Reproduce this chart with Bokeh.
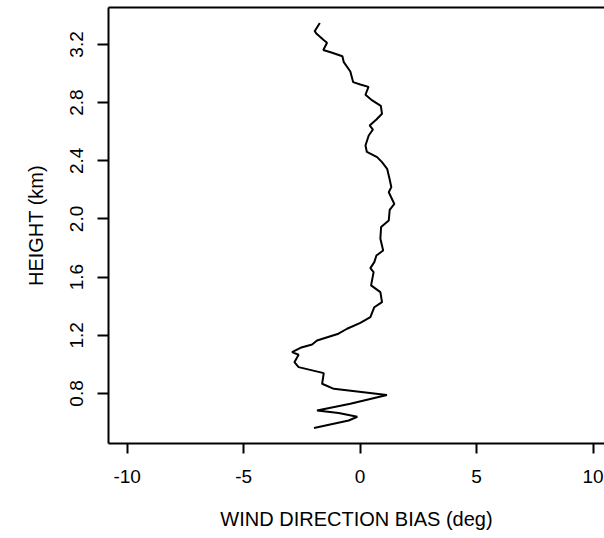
from bokeh.plotting import figure
from bokeh.models import LinearAxis, FixedTicker, Range1d
from bokeh.embed import file_html
from bokeh.resources import INLINE

# Wind direction bias profile (deg) vs height (km)
bias = [-1.98, -0.49, -0.12, -0.92, -1.85, -0.42, 1.15, -1.13, -1.63, -1.56,
        -2.64, -2.82, -2.64, -2.92, -2.56, -2.06, -1.85, -0.93, -0.56, 0.01,
        0.44, 0.61, 0.94, 0.87, 0.47, 0.58, 0.44, 0.61, 0.70, 0.99,
        0.87, 0.90, 1.23, 1.27, 1.47, 1.23, 1.34, 1.26, 1.16, 0.94,
        0.73, 0.29, 0.23, 0.37, 0.55, 0.41, 0.70, 0.94, 0.89, 0.52,
        0.23, 0.36, 0.01, -0.30, -0.42, -0.70, -0.76, -1.20, -1.58, -1.42,
        -1.59, -1.88, -1.95, -1.73]
height = [0.563, 0.614, 0.640, 0.665, 0.683, 0.729, 0.790, 0.832, 0.867, 0.940,
          0.981, 1.015, 1.066, 1.084, 1.114, 1.137, 1.164, 1.211, 1.245, 1.286,
          1.325, 1.393, 1.428, 1.497, 1.543, 1.634, 1.662, 1.703, 1.749, 1.783,
          1.864, 1.944, 1.990, 2.063, 2.103, 2.184, 2.219, 2.278, 2.345, 2.391,
          2.425, 2.461, 2.505, 2.574, 2.615, 2.643, 2.684, 2.723, 2.777, 2.815,
          2.854, 2.908, 2.925, 2.941, 3.014, 3.078, 3.119, 3.143, 3.162, 3.212,
          3.234, 3.276, 3.291, 3.348]

x_ticks = [-10, -5, 0, 5, 10]
x_tick_labels = {-10: "-10", -5: "-5", 0: "0", 5: "5", 10: "10"}
y_ticks = [0.8, 1.2, 1.6, 2.0, 2.4, 2.8, 3.2]
y_tick_labels = {0.8: "0.8", 1.2: "1.2", 1.6: "1.6", 2.0: "2.0", 2.4: "2.4", 2.8: "2.8", 3.2: "3.2"}

FONT = "Liberation Sans"
TICK_FS = "19px"
TITLE_FS = "20px"

p = figure(width=604, height=538, output_backend="svg", toolbar_location=None,
           x_range=Range1d(-10.8, 10.49), y_range=Range1d(0.456, 3.454),
           min_border_left=108, min_border_right=0, min_border_top=7, min_border_bottom=95,
           x_axis_label="WIND DIRECTION BIAS (deg)", y_axis_label="HEIGHT (km)")
p.outline_line_color = None
p.grid.visible = False
p.background_fill_color = "white"
p.border_fill_color = "white"

p.line(bias, height, line_color="black", line_width=2)

xa = p.xaxis[0]
xa.ticker = FixedTicker(ticks=x_ticks)
xa.major_label_overrides = x_tick_labels
xa.minor_tick_line_color = None
xa.major_tick_in = 0
xa.major_tick_out = 10
xa.major_tick_line_width = 2
xa.axis_line_width = 2
xa.major_label_standoff = 16
xa.axis_label_standoff = 22
xa.major_label_text_font = FONT
xa.major_label_text_font_size = TICK_FS
xa.major_label_text_color = "black"
xa.axis_label_text_font = FONT
xa.axis_label_text_font_size = TITLE_FS
xa.axis_label_text_font_style = "normal"
xa.axis_label_text_color = "black"

ya = p.yaxis[0]
ya.ticker = FixedTicker(ticks=y_ticks)
ya.major_label_overrides = y_tick_labels
ya.minor_tick_line_color = None
ya.major_tick_in = 0
ya.major_tick_out = 11
ya.major_tick_line_width = 2
ya.axis_line_width = 2
ya.major_label_orientation = "vertical"
ya.major_label_standoff = 14
ya.axis_label_standoff = 21
ya.major_label_text_font = FONT
ya.major_label_text_font_size = TICK_FS
ya.major_label_text_color = "black"
ya.axis_label_text_font = FONT
ya.axis_label_text_font_size = TITLE_FS
ya.axis_label_text_font_style = "normal"
ya.axis_label_text_color = "black"

# top side of the box (the right side falls outside the picture, as in the reference)
top = LinearAxis(ticker=FixedTicker(ticks=[]), major_tick_out=0, major_tick_in=0,
                 minor_tick_out=0, minor_tick_in=0, axis_line_width=2,
                 axis_line_color="black", major_label_text_font_size="0px")
p.add_layout(top, "above")

open("out.html", "w").write(file_html(p, INLINE))
